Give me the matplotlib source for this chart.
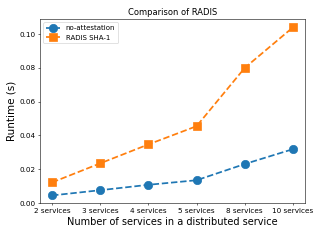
import matplotlib
matplotlib.use("Agg")
import matplotlib.pyplot as plt

# Data
categories = ["2 services", "3 services", "4 services", "5 services", "8 services", "10 services"]
no_attestation = [0.0045, 0.0076, 0.0108, 0.0135, 0.0231, 0.0319]
radis_sha1 = [0.0122, 0.0235, 0.0347, 0.0455, 0.0800, 0.1040]

fig, ax = plt.subplots(figsize=(6.4, 4.8), dpi=50)

ax.plot(categories, no_attestation, linestyle="--", marker="o", markersize=12,
        linewidth=2.5, color="#1f77b4", label="no-attestation")
ax.plot(categories, radis_sha1, linestyle="--", marker="s", markersize=12,
        linewidth=2.5, color="#ff7f0e", label="RADIS SHA-1")

ax.set_ylim(0, None)
ax.set_title("Comparison of RADIS", fontsize=12)
ax.set_xlabel("Number of services in a distributed service", fontsize=14)
ax.set_ylabel("Runtime (s)", fontsize=15)
ax.tick_params(axis="x", labelsize=10.5)
ax.tick_params(axis="y", labelsize=10.5)
ax.legend(loc="upper left", fontsize=10)

fig.subplots_adjust(left=0.125, right=0.953, top=0.921, bottom=0.154)
fig.savefig("out.png", dpi=50)
